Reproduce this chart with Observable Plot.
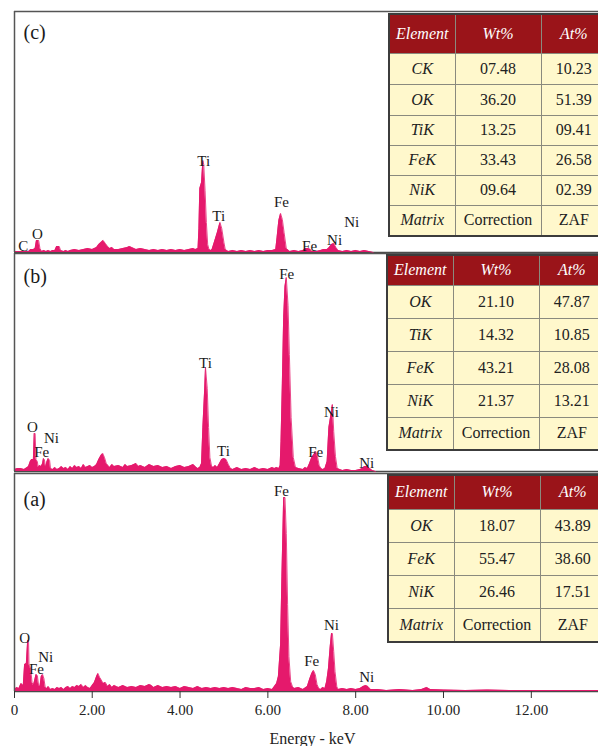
<!DOCTYPE html>
<html><head><meta charset="utf-8">
<script src="https://cdn.jsdelivr.net/npm/d3@7"></script>
<script src="https://cdn.jsdelivr.net/npm/@observablehq/plot@0.6"></script>
<style>
html,body{margin:0;padding:0;background:#fff;}
#fig{position:relative;width:598px;height:746px;overflow:hidden;font-family:"Liberation Serif","Times New Roman",serif;}
.panel{position:absolute;left:0;}
table.eds{position:absolute;border-collapse:collapse;table-layout:fixed;font-size:16px;color:#222;border:2px solid #3c3c3c;}
table.eds td,table.eds th{border:1px solid #8a8a7e;text-align:center;padding:0;vertical-align:middle;}
table.eds th{background:#9a1419;color:#fff;font-style:italic;font-weight:normal;}
table.eds td{background:#fff8cc;}
table.eds td.el{font-style:italic;}
</style></head>
<body><div id="fig"></div>
<script>
// ---------- data ----------
const xTickValues = [0.23, 2, 4, 6, 8, 10, 12];
const xTickLabels = ["0", "2.00", "4.00", "6.00", "8.00", "10.00", "12.00"];
const axisTitle = "Energy - keV";

// Panel (a) spectrum: energy (keV) and counts
const energyA = [0.23,0.28,0.33,0.38,0.43,0.46,0.50,0.53,0.55,0.56,0.60,0.63,0.66,0.69,0.72,0.75,0.78,0.81,0.84,0.87,0.90,0.93,0.97,1.00,1.05,1.10,1.15,1.20,1.25,1.30,1.35,1.40,1.45,1.50,1.55,1.60,1.65,1.70,1.75,1.80,1.85,1.90,1.95,2.00,2.05,2.10,2.13,2.17,2.20,2.25,2.30,2.35,2.40,2.45,2.50,2.55,2.60,2.70,2.80,2.90,3.00,3.10,3.20,3.30,3.35,3.40,3.50,3.60,3.70,3.80,3.90,4.00,4.10,4.20,4.30,4.40,4.50,4.60,4.70,4.80,4.90,5.00,5.10,5.20,5.30,5.40,5.50,5.60,5.70,5.80,5.90,6.00,6.10,6.15,6.20,6.24,6.29,6.32,6.36,6.39,6.42,6.45,6.48,6.52,6.56,6.60,6.70,6.80,6.90,6.95,7.00,7.04,7.08,7.12,7.16,7.20,7.25,7.30,7.34,7.38,7.42,7.45,7.47,7.50,7.53,7.57,7.60,7.70,7.80,7.90,8.00,8.10,8.17,8.23,8.28,8.34,8.50,8.70,9.00,9.30,9.50,9.62,9.70,10.00,10.50,11.00,11.50,12.00,12.50,13.00,13.53];
const countsA = [2,4,3,8,6,27,28,51,51,27,22,9,6,11,17,16,6,5,15,17,13,4,3,5,2,3,2,4,3,4,2,4,5,3,5,4,6,5,7,4,6,4,3,6,9,15,18,14,12,8,9,5,7,4,6,5,4,6,4,5,4,6,5,7,6,4,6,4,5,4,5,3,5,4,3,5,3,4,3,4,3,4,3,4,3,2,4,3,3,4,2,3,2,5,8,15,47,115,194,194,158,87,35,10,5,3,4,2,5,12,18,21,17,7,3,2,4,3,10,23,45,58,58,40,20,5,2,3,2,3,2,3,5,6,5,2,2,1,2,1,2,4,2,1.5,1,1.5,1,1,1,1,1];

// Panel (b)
const energyB = [0.23,0.30,0.37,0.45,0.52,0.55,0.59,0.62,0.66,0.68,0.70,0.72,0.75,0.77,0.80,0.84,0.87,0.89,0.91,0.94,0.97,1.00,1.03,1.05,1.10,1.15,1.20,1.25,1.30,1.35,1.40,1.45,1.50,1.55,1.60,1.65,1.70,1.75,1.80,1.85,1.90,1.95,2.00,2.05,2.10,2.15,2.20,2.24,2.28,2.32,2.36,2.40,2.45,2.50,2.60,2.70,2.75,2.80,2.90,3.00,3.05,3.10,3.20,3.30,3.40,3.50,3.60,3.70,3.80,3.90,4.00,4.10,4.20,4.30,4.35,4.40,4.45,4.49,4.52,4.56,4.58,4.62,4.65,4.68,4.72,4.76,4.80,4.85,4.90,4.95,5.00,5.05,5.10,5.15,5.20,5.30,5.40,5.50,5.60,5.70,5.80,5.90,6.00,6.10,6.15,6.20,6.25,6.28,6.30,6.33,6.36,6.39,6.42,6.46,6.49,6.53,6.58,6.63,6.70,6.80,6.85,6.90,6.95,7.00,7.05,7.09,7.13,7.17,7.21,7.25,7.30,7.35,7.39,7.43,7.47,7.50,7.54,7.58,7.70,7.80,7.90,8.00,8.10,8.15,8.20,8.27,8.32,8.38,8.45];
const countsB = [2,3,3,2,4,5,10,12,12,38,38,12,10,4,6,5,8,13,12,4,10,13,11,3,2,4,2,3,5,3,4,2,5,3,6,4,5,3,7,4,5,6,4,5,7,12,16,18,14,8,6,4,7,5,6,4,7,5,6,8,5,6,4,7,5,6,4,5,3,5,6,4,5,7,5,3,4,8,44,81,104,83,44,14,5,4,6,4,8,12,13,12,7,3,2,4,2,3,2,4,2,3,2,4,3,4,3,6,30,88,154,185,194,166,117,54,14,4,3,2,4,3,8,14,17,20,15,6,3,2,3,10,44,55,67,40,15,3,1,2,1,1,2,3,5,5,3,1,0];

// Panel (c)
const energyC = [0.23,0.40,0.55,0.60,0.66,0.70,0.73,0.78,0.81,0.85,0.90,0.95,1.00,1.05,1.10,1.15,1.19,1.25,1.28,1.35,1.40,1.45,1.50,1.60,1.70,1.80,1.90,2.00,2.10,2.15,2.20,2.25,2.30,2.35,2.40,2.45,2.50,2.60,2.70,2.80,2.85,2.90,3.00,3.10,3.20,3.30,3.40,3.50,3.60,3.70,3.80,3.90,4.00,4.10,4.20,4.30,4.35,4.41,4.43,4.45,4.49,4.52,4.54,4.57,4.60,4.63,4.66,4.70,4.73,4.78,4.85,4.91,4.95,5.00,5.03,5.10,5.20,5.30,5.40,5.50,5.60,5.70,5.80,5.90,6.00,6.10,6.18,6.21,6.25,6.29,6.33,6.37,6.42,6.50,6.60,6.70,6.80,6.86,6.92,6.97,7.00,7.10,7.20,7.27,7.35,7.40,7.45,7.50,7.55,7.60,7.70,7.80,7.90,8.00,8.10,8.20,8.30,8.40];
const countsC = [1,1,1,3,3,4,12,12,4,1,2,1,2,1,2,2,6,6,2,1,2,1,2,3,2,3,4,3,5,8,10,12,9,6,4,5,3,3,4,5,6,5,3,4,3,2,3,2,3,2,3,2,3,2,3,4,3,4,24,64,70,92,88,62,30,8,3,2,3,10,20,30,24,10,3,1,2,1,2,1,2,1,2,1,2,2,3,15,32,39,33,20,4,1,2,1,2,4,4,3,1,1,2,3,3,5,8,9,5,2,1,2,1,2,1,2,1,0];

// Peak labels
const peakNamesA = ["O","Fe","Ni","Fe","Fe","Ni","Ni"];
const peakEnergyA = [0.46,0.73,0.94,6.31,7.00,7.45,8.25];
const peakHeightA = [53,22,34,200,30,66,14];
const peakNamesB = ["O","Fe","Ni","Ti","Ti","Fe","Fe","Ni","Ni"];
const peakEnergyB = [0.64,0.85,1.07,4.58,4.99,6.43,7.09,7.45,8.25];
const peakHeightB = [44,19,33,108,20,197,19,59,8];
const peakNamesC = ["C","O","Ti","Ti","Fe","Fe","Ni","Ni"];
const peakEnergyC = [0.43,0.75,4.54,4.88,6.31,6.95,7.52,7.91];
const peakHeightC = [6,18,91,36,50,6,12,30];

// Tables
const tableHeader = ["Element","Wt%","At%"];
const elementsC = ["CK","OK","TiK","FeK","NiK","Matrix"];
const wtC = ["07.48","36.20","13.25","33.43","09.64","Correction"];
const atC = ["10.23","51.39","09.41","26.58","02.39","ZAF"];
const elementsB = ["OK","TiK","FeK","NiK","Matrix"];
const wtB = ["21.10","14.32","43.21","21.37","Correction"];
const atB = ["47.87","10.85","28.08","13.21","ZAF"];
const elementsA = ["OK","FeK","NiK","Matrix"];
const wtA = ["18.07","55.47","26.46","Correction"];
const atA = ["43.89","38.60","17.51","ZAF"];

// ---------- drawing ----------
const PINK = "#e5196c";
const FONT = "Liberation Serif, Times New Roman, serif";
const fig = document.getElementById("fig");

function spectrum(cfg) {
  const data = cfg.E.map((e, i) => ({e, c: cfg.C[i]}));
  const labels = cfg.names.map((n, i) => ({n, e: cfg.pE[i], h: cfg.pH[i]}));
  const marks = [
    Plot.ruleY([0], {stroke: "#4a4a4a", strokeWidth: 1.5}),
    Plot.areaY(data, {x: "e", y: "c", fill: PINK, curve: "linear"}),
    Plot.lineY(data, {x: "e", y: "c", stroke: PINK, strokeWidth: 0.8}),
    Plot.ruleY([cfg.h], {stroke: "#555", strokeWidth: 1.5}),
    Plot.ruleX([xTickValues[0]], {stroke: "#555", strokeWidth: 1.5}),
    Plot.text(labels, {x: "e", y: "h", text: "n", fontSize: 15, fill: "#1a1a1a"}),
    Plot.text([cfg.tag], {text: d => d, frameAnchor: "top-left", dx: 9, dy: cfg.tagDy, fontSize: 20, textAnchor: "start", lineAnchor: "middle", fill: "#1a1a1a"})
  ];
  if (cfg.axis) {
    marks.push(Plot.axisX(xTickValues, {tickSize: 7, tickPadding: 6, fontSize: 15, fill: "#222", stroke: "#333",
      tickFormat: d => xTickLabels[xTickValues.indexOf(d)], label: null}));
    marks.push(Plot.text([axisTitle], {text: d => d, frameAnchor: "bottom", dx: 6, dy: 47, fontSize: 16, fill: "#222", lineAnchor: "middle"}));
  }
  const p = Plot.plot({
    width: 598, height: cfg.height,
    marginLeft: 14, marginRight: 0, marginTop: cfg.mt, marginBottom: cfg.mb,
    style: {fontFamily: FONT, background: "transparent", overflow: "visible"},
    x: {domain: [xTickValues[0], 13.53], ...(cfg.axis ? {} : {axis: null})},
    y: {domain: [0, cfg.h], axis: null},
    marks
  });
  p.classList.add("panel");
  p.style.position = "absolute";
  p.style.top = cfg.top + "px";
  p.style.left = "0px";
  fig.appendChild(p);
}

spectrum({E: energyC, C: countsC, names: peakNamesC, pE: peakEnergyC, pH: peakHeightC, tag: "(c)", tagDy: 21,
  top: 0, mt: 11, mb: 2, h: 241, height: 254});
spectrum({E: energyB, C: countsB, names: peakNamesB, pE: peakEnergyB, pH: peakHeightB, tag: "(b)", tagDy: 23,
  top: 250, mt: 3, mb: 2, h: 218, height: 223});
spectrum({E: energyA, C: countsA, names: peakNamesA, pE: peakEnergyA, pH: peakHeightA, tag: "(a)", tagDy: 26,
  top: 463, mt: 10, mb: 55, h: 218, height: 283, axis: true});

function addTable(left, top, headH, rowHs, els, wts, ats) {
  const t = document.createElement("table");
  t.className = "eds";
  t.style.left = left + "px";
  t.style.top = top + "px";
  t.style.width = "218px";
  const cg = document.createElement("colgroup");
  [66, 86, 66].forEach(w => { const c = document.createElement("col"); c.style.width = w + "px"; cg.appendChild(c); });
  t.appendChild(cg);
  const hr = document.createElement("tr");
  hr.style.height = headH + "px";
  tableHeader.forEach(h => { const th = document.createElement("th"); th.textContent = h; hr.appendChild(th); });
  t.appendChild(hr);
  els.forEach((e, i) => {
    const tr = document.createElement("tr");
    tr.style.height = rowHs[i] + "px";
    [e, wts[i], ats[i]].forEach((v, j) => {
      const td = document.createElement("td");
      td.textContent = v;
      if (j === 0) td.className = "el";
      tr.appendChild(td);
    });
    t.appendChild(tr);
  });
  fig.appendChild(t);
}

addTable(388, 13, 39, [31, 31, 30, 30, 30, 31], elementsC, wtC, atC);
addTable(386, 254, 30, [33, 33, 33, 33, 33], elementsB, wtB, atB);
addTable(387, 474, 34, [33, 33, 33, 34], elementsA, wtA, atA);
</script></body></html>
